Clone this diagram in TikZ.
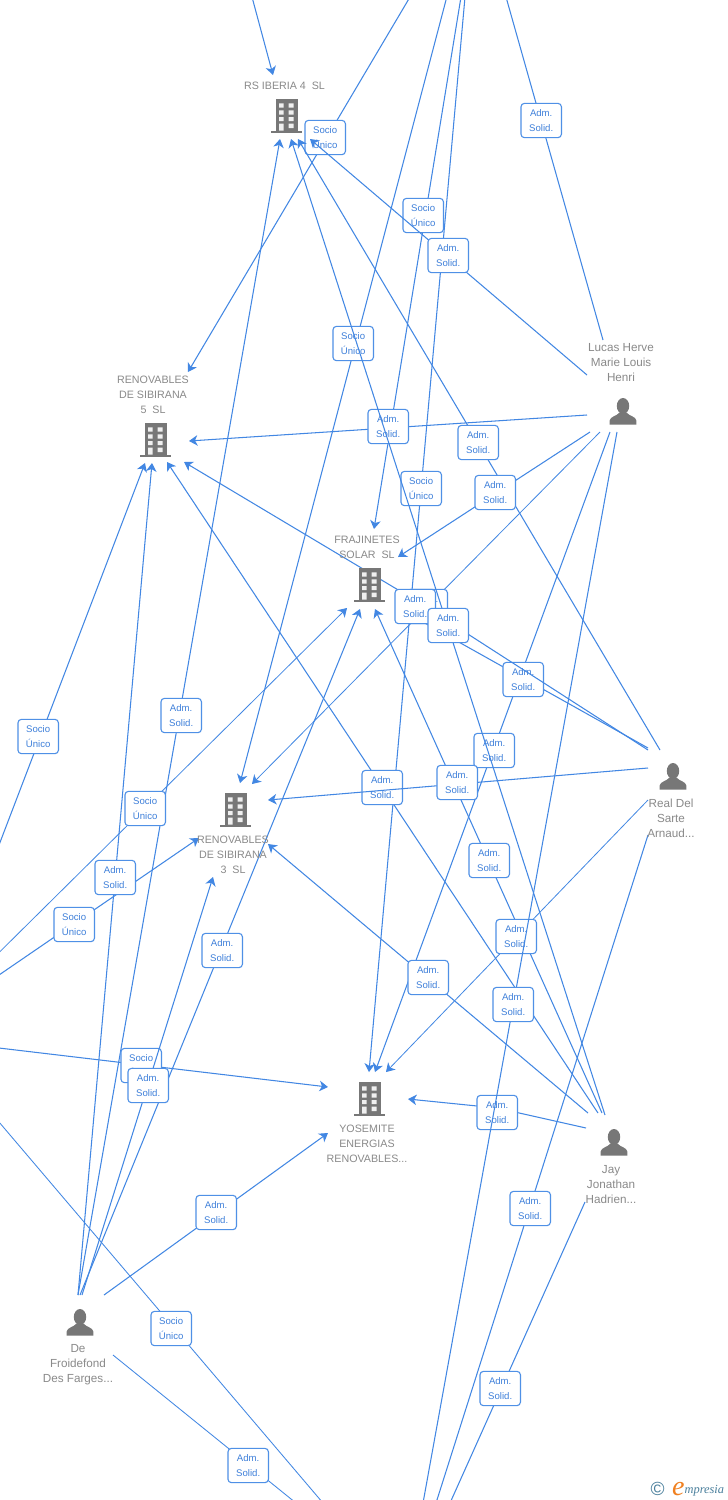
\documentclass[tikz,border=0pt]{standalone}
\usepackage{fontspec}
\setmainfont{Liberation Sans}
\newfontfamily\logofont{Liberation Serif}
\usetikzlibrary{arrows.meta}
\definecolor{linkblue}{HTML}{4287E3}
\definecolor{boxblue}{HTML}{4F90E6}
\definecolor{lbltxt}{HTML}{3F80DA}
\definecolor{nodegray}{HTML}{8A8A8A}
\definecolor{icongray}{HTML}{777777}
\definecolor{windowgray}{HTML}{F0F0F0}
\definecolor{logoblue}{HTML}{4A7F9C}
\definecolor{logoorange}{HTML}{F08020}
\tikzset{
  link/.style={draw=linkblue,line width=1.05pt},
  arrowed/.style={-{Stealth[length=8.5pt,width=10.5pt,inset=2.5pt]}},
  lbl/.style={draw=boxblue,line width=1.1pt,fill=white,rounded corners=3.5pt,minimum width=40.5pt,minimum height=34.3pt,
    inner sep=0pt,align=center,text=lbltxt,font=\fontsize{9.6}{15}\selectfont,xshift=0.2pt,yshift=-0.5pt},
  ent/.style={inner sep=0pt,align=center,text=nodegray,font=\fontsize{10.7}{15}\selectfont},
  peo/.style={inner sep=0pt,align=center,text=nodegray,font=\fontsize{11.7}{15}\selectfont},
  iconanchor/.style={inner sep=0pt,minimum width=26pt,minimum height=30pt},
}
% connector with arrow: name, source, tip, label centre, label text
\newcommand{\lnkA}[5]{%
  \coordinate (s#1) at (#2); \coordinate (t#1) at (#3);
  \draw[link,arrowed] (s#1) -- (t#1);
  \node[lbl] (l#1) at (#4) {#5};}
% connector with arrow through a bend
\newcommand{\lnkB}[6]{%
  \coordinate (s#1) at (#2); \coordinate (t#1) at (#3); \coordinate (v#1) at (#6);
  \draw[link,arrowed] (s#1) -- (v#1) -- (t#1);
  \node[lbl] (l#1) at (#4) {#5};}
\newcommand{\AS}{Adm.\\Solid.}
\newcommand{\SU}{Socio\\Único}
\newcommand{\bldg}[3]{%
  \node[iconanchor] (#1) at (#2,#3) {};
  \begin{scope}[shift={(#2,#3)}]
    \fill[icongray] (-10.5,-16.8) rectangle (11.5,14.6);
    \fill[icongray] (-15.3,14.6) rectangle (16,17);
    \fill[windowgray] (-7,-12.7) rectangle (-2.5,-8.3) (2.7,-12.7) rectangle (7.6,-8.3)
                 (-7,-5.6) rectangle (-2.5,-1.4) (2.7,-5.6) rectangle (7.6,-1.4)
                 (-7,1) rectangle (-2.5,5) (2.7,1) rectangle (7.6,5)
                 (-7,7.6) rectangle (-2.5,14.6) (2.7,7.6) rectangle (7.6,12);
  \end{scope}}
\newcommand{\persn}[3]{%
  \node[iconanchor] (#1) at (#2,#3) {};
  \begin{scope}[shift={(#2,#3)}]
    \fill[icongray] (0,-5) ellipse (6.2 and 8);
    \fill[icongray] (-13.3,13.7) -- (-13.3,9.5) .. controls (-13,5.5) and (-6,5) .. (-3.5,1.5)
      -- (3.5,1.5) .. controls (6,5) and (13,5.5) .. (13.3,9.5) -- (13.3,13.7) -- cycle;
  \end{scope}}
\begin{document}
\begin{tikzpicture}[x=1pt,y=-1pt]
\useasboundingbox (0,0) rectangle (728,1500);
\clip (0,0) rectangle (728,1500);
\fill[white] (0,0) rectangle (728,1500);

% edges and their labels, back to front
\coordinate (sa) at (252,-3); \coordinate (ta) at (273,75);
\draw[link,arrowed] (sa) -- (ta);

\lnkA{b}{410,-3}{188,372}{325,137}{\SU}
\lnkA{c}{446.8,-3}{240,783}{353,343}{\SU}
\lnkA{d}{461,-3}{374,529}{423,215}{\SU}
\lnkA{f}{465,-3}{369,1072}{421,488}{\SU}
\lnkA{e}{78,1295}{280,139}{181,715}{\AS}
\lnkA{g}{587,375}{310,139}{448,255}{\AS}
\lnkA{h}{660,750}{298,139}{478,442}{\AS}
\lnkA{i}{587,415}{189,441}{388,426}{\AS}
\lnkA{j}{590,432}{398,557}{495,492}{\AS}
\coordinate (sk) at (600,432); \coordinate (tk) at (252,784);
\draw[link,arrowed,line width=0.8pt] (sk) -- (tk);
\node[lbl] (lk) at (427,606) {\AS};
\lnkA{p}{610,432}{375,1072}{494,750}{\AS}
\lnkA{m}{648,748}{398,608}{523,679}{\AS}
\lnkB{n}{648,750}{184,462}{415,606}{\AS}{415,600}
\lnkA{o}{605,1115}{291,139}{448,625}{\AS}
\lnkA{q}{598,1113}{167,462}{382,787}{\AS}
\lnkA{s}{602,1113}{375,609}{489,860}{\AS}
\lnkA{r}{648,768}{268,800}{457,782}{\AS}
\lnkA{v}{-1,975}{199,838}{74,924}{\SU}
\lnkA{u}{78,1295}{152,463}{115,877}{\AS}
\coordinate (sw) at (-57,1008); \coordinate (tw) at (347,608);
\draw[link,arrowed,line width=0.8pt] (sw) -- (tw);
\node[lbl] (lw) at (145,808) {\SU};
\lnkA{x}{-1,845}{145,463}{38,736}{\SU}
\coordinate (sy) at (648,800); \coordinate (ty) at (386,1072);
\draw[link,arrowed,line width=0.8pt] (sy) -- (ty);
\node[lbl] (ly) at (516,936) {\AS};
\lnkA{z}{80,1295}{360,609}{222,950}{\AS}
\lnkA{aa}{588,1113}{268,844}{428,977}{\AS}
\lnkA{ab}{-1,1048}{328,1087}{141,1065}{\SU}
\lnkA{ac}{82,1295}{213,877}{148,1085}{\AS}
\lnkB{ad}{586,1128}{408,1099}{497,1112}{\AS}{497,1108}
\coordinate (sae) at (617,432); \coordinate (tae) at (423,1503);
\draw[link] (sae) -- (tae);
\node[lbl] (lae) at (513,1004) {\AS};
\coordinate (saf) at (648,835); \coordinate (tag) at (436,1503);
\draw[link] (saf) -- (tag);
\node[lbl] (laf) at (530,1208) {\AS};
\lnkA{ah}{104,1295}{328,1133}{216,1212}{\AS}
\coordinate (sai) at (-1,1122); \coordinate (taj) at (323,1503);
\draw[link,line width=0.85pt] (sai) -- (taj);
\node[lbl] (lai) at (171,1328) {\SU};
\coordinate (sak) at (585,1202); \coordinate (tal) at (450,1503);
\draw[link] (sak) -- (tal);
\node[lbl] (lak) at (500,1388) {\AS};
\coordinate (sam) at (113,1355); \coordinate (tan) at (296,1503);
\draw[link,line width=0.85pt] (sam) -- (tan);
\node[lbl] (lam) at (248,1465) {\AS};
\coordinate (sao) at (603,340); \coordinate (tap) at (506,-3);
\draw[link] (sao) -- (tap);
\node[lbl] (lao) at (541,120) {\AS};

% icons
\bldg{rs}{286}{116}
\bldg{ren5}{155}{440}
\bldg{fra}{369}{585}
\bldg{ren3}{235}{810}
\bldg{yos}{369}{1099}
\persn{luc}{623}{411}
\persn{rea}{673}{776}
\persn{jay}{614}{1142}
\persn{def}{80}{1322}

% names
\node[ent] (nrs) at (284.5,85.5) {RS IBERIA 4\ \ SL};
\node[ent] (nren5) at (153,394.5) {RENOVABLES\\DE SIBIRANA\\5\ \ SL};
\node[ent] (nfra) at (367,547) {FRAJINETES\\SOLAR\ \ SL};
\node[ent] (nren3) at (233,854.5) {RENOVABLES\\DE SIBIRANA\\3\ \ SL};
\node[ent] (nyos) at (367,1143.5) {YOSEMITE\\ENERGIAS\\RENOVABLES...};
\node[peo] (nluc) at (621,363) {Lucas Herve\\Marie Louis\\Henri};
\node[peo] (nrea) at (671,818) {Real Del\\Sarte\\Arnaud...};
\node[peo] (njay) at (611,1185) {Jay\\Jonathan\\Hadrien...};
\node[peo] (ndef) at (78,1364.5) {De\\Froidefond\\Des Farges...};

% logo
\node[inner sep=0pt,text=logoblue,font=\fontsize{19}{19}\selectfont] (logoc) at (657.7,1489) {©};
\node[inner sep=0pt,anchor=base west,font=\logofont\itshape\fontsize{12.4}{13}\selectfont,text=logoblue] (logot) at (672,1493.3)
  {\textcolor{logoorange}{\fontsize{28}{28}\selectfont\raisebox{-2pt}{e}}mpresia};
\end{tikzpicture}
\end{document}
